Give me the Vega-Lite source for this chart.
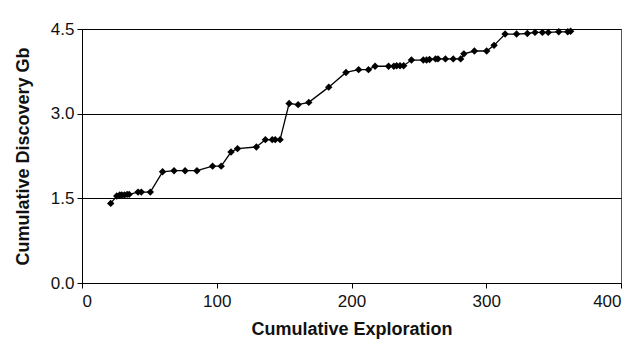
{
  "$schema": "https://vega.github.io/schema/vega-lite/v6.json",
  "width": 539,
  "height": 254,
  "autosize": {"type": "none"},
  "padding": {"left": 82, "top": 29, "right": 20, "bottom": 72},
  "background": "white",
  "config": {
    "font": "Liberation Sans",
    "view": {"stroke": "#555555", "strokeWidth": 1},
    "axis": {
      "domainColor": "black",
      "tickColor": "black",
      "labelColor": "#111111",
      "titleColor": "#111111",
      "labelFont": "Liberation Sans",
      "titleFont": "Liberation Sans",
      "labelFontSize": 17,
      "titleFontSize": 18,
      "titleFontWeight": "bold",
      "tickSize": 5
    }
  },
  "data": {
    "values": [
      {"x": 21.3, "y": 1.41},
      {"x": 25.8, "y": 1.54},
      {"x": 28.0, "y": 1.56},
      {"x": 29.5, "y": 1.56},
      {"x": 31.5, "y": 1.56},
      {"x": 33.5, "y": 1.57},
      {"x": 35.0, "y": 1.57},
      {"x": 41.6, "y": 1.61},
      {"x": 44.0, "y": 1.61},
      {"x": 50.7, "y": 1.61},
      {"x": 59.8, "y": 1.97},
      {"x": 68.3, "y": 1.99},
      {"x": 76.5, "y": 1.99},
      {"x": 85.3, "y": 1.99},
      {"x": 96.9, "y": 2.07},
      {"x": 103.3, "y": 2.07},
      {"x": 110.6, "y": 2.32},
      {"x": 115.4, "y": 2.38},
      {"x": 129.4, "y": 2.41},
      {"x": 136.1, "y": 2.54},
      {"x": 141.2, "y": 2.54},
      {"x": 143.4, "y": 2.54},
      {"x": 147.0, "y": 2.54},
      {"x": 153.7, "y": 3.18},
      {"x": 160.4, "y": 3.16},
      {"x": 168.3, "y": 3.2},
      {"x": 183.1, "y": 3.47},
      {"x": 195.9, "y": 3.73},
      {"x": 205.3, "y": 3.78},
      {"x": 212.6, "y": 3.78},
      {"x": 217.5, "y": 3.84},
      {"x": 227.5, "y": 3.84},
      {"x": 231.4, "y": 3.84},
      {"x": 233.5, "y": 3.85},
      {"x": 236.0, "y": 3.85},
      {"x": 238.7, "y": 3.85},
      {"x": 244.5, "y": 3.95},
      {"x": 253.3, "y": 3.95},
      {"x": 255.7, "y": 3.95},
      {"x": 257.9, "y": 3.96},
      {"x": 262.4, "y": 3.97},
      {"x": 264.2, "y": 3.97},
      {"x": 269.7, "y": 3.97},
      {"x": 275.5, "y": 3.97},
      {"x": 281.0, "y": 3.97},
      {"x": 283.4, "y": 4.06},
      {"x": 291.2, "y": 4.11},
      {"x": 300.3, "y": 4.11},
      {"x": 305.8, "y": 4.21},
      {"x": 314.0, "y": 4.41},
      {"x": 322.5, "y": 4.41},
      {"x": 330.5, "y": 4.42},
      {"x": 336.2, "y": 4.44},
      {"x": 341.7, "y": 4.44},
      {"x": 346.0, "y": 4.44},
      {"x": 353.8, "y": 4.45},
      {"x": 360.5, "y": 4.45},
      {"x": 362.6, "y": 4.46}
    ]
  },
  "encoding": {
    "x": {
      "field": "x",
      "type": "quantitative",
      "title": "Cumulative Exploration",
      "scale": {"domain": [0, 400], "nice": false, "zero": true},
      "axis": {"values": [0, 100, 200, 300, 400], "grid": false, "labelPadding": 5, "titlePadding": 11}
    },
    "y": {
      "field": "y",
      "type": "quantitative",
      "title": "Cumulative Discovery Gb",
      "scale": {"domain": [0, 4.5], "nice": false},
      "axis": {"values": [0, 1.5, 3, 4.5], "format": ".1f", "grid": true, "gridColor": "black", "gridOpacity": 1, "labelPadding": 3, "titlePadding": 18}
    }
  },
  "layer": [
    {"mark": {"type": "line", "color": "black", "strokeWidth": 1.3}},
    {"mark": {"type": "point", "shape": "diamond", "filled": true, "color": "black", "opacity": 1, "size": 55}}
  ]
}
